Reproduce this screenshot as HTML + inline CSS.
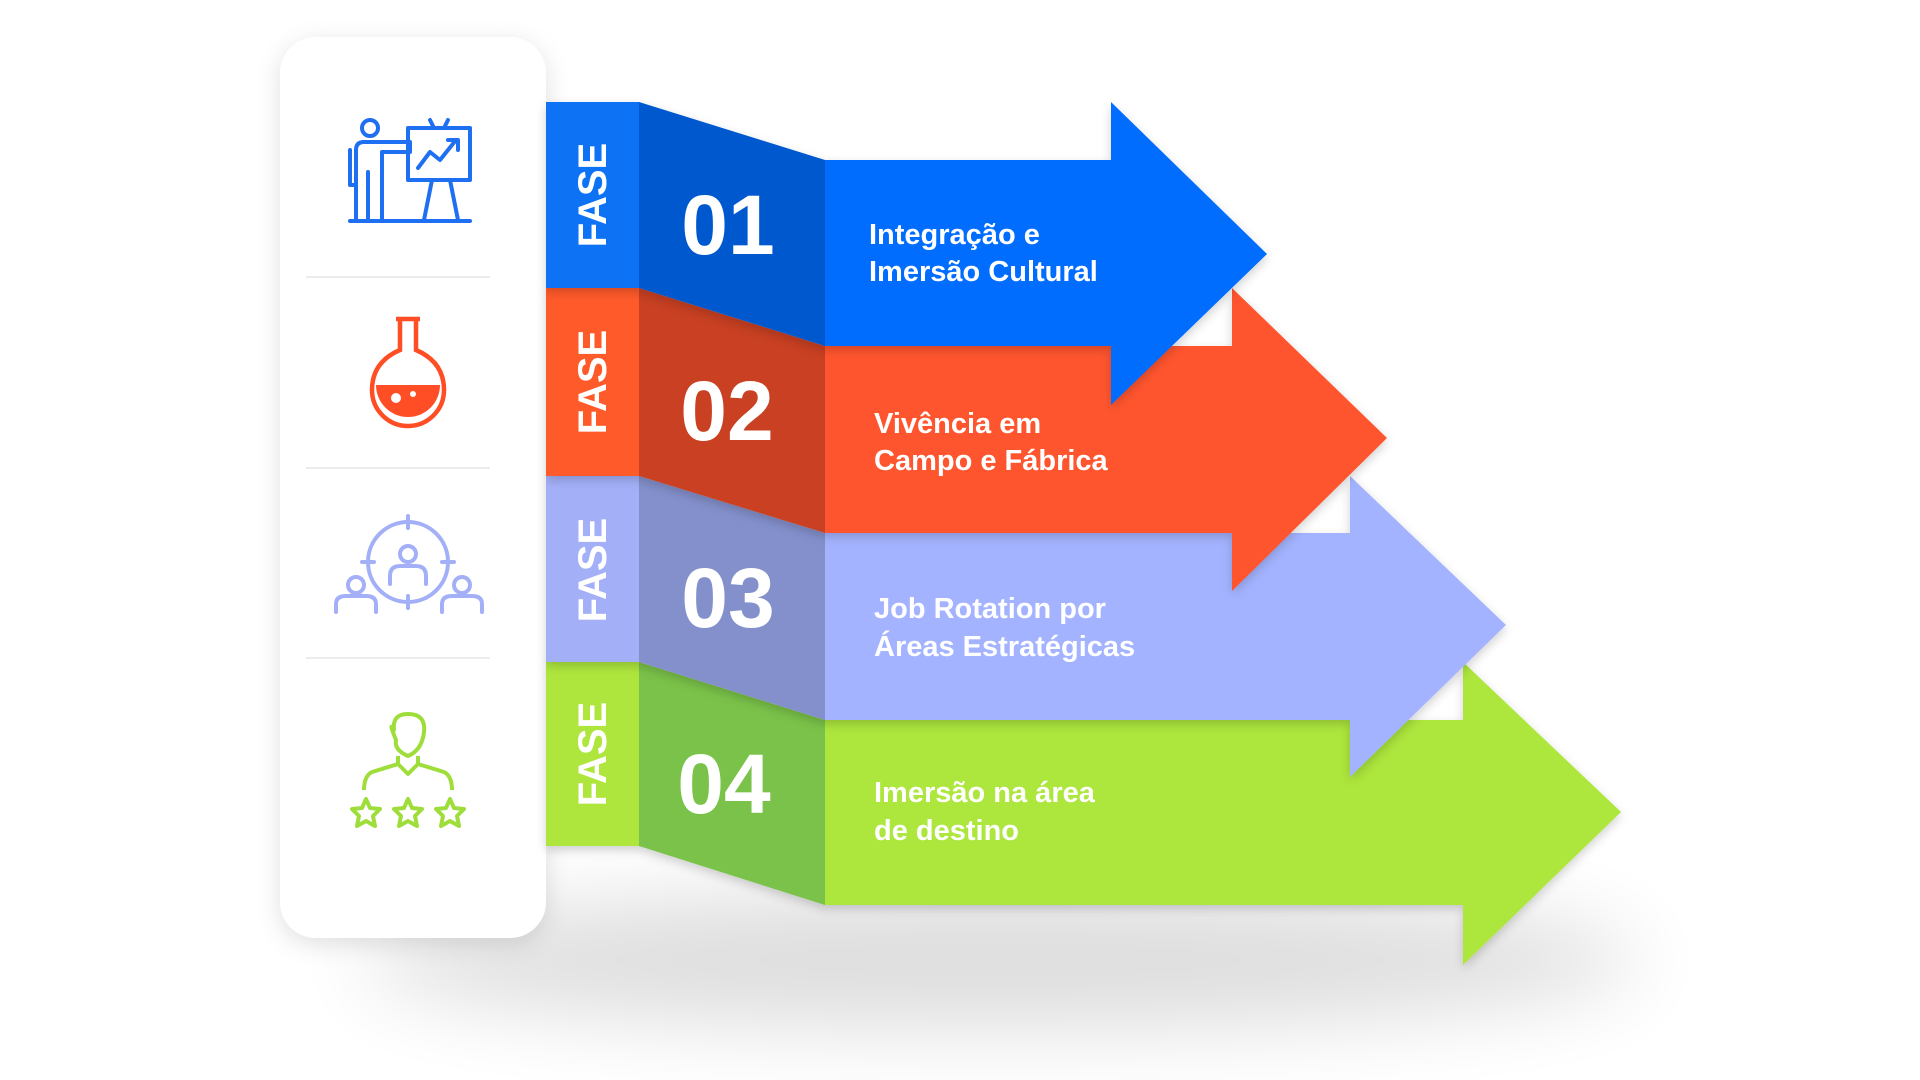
<!DOCTYPE html>
<html><head><meta charset="utf-8"><style>
html,body{margin:0;padding:0;background:#fff;}
svg{display:block;}
text{font-family:"Liberation Sans",sans-serif;fill:#fff;}
</style></head><body>
<svg width="1920" height="1080" viewBox="0 0 1920 1080" xmlns="http://www.w3.org/2000/svg">
<defs>
<filter id="blur" x="-50%" y="-50%" width="200%" height="200%"><feGaussianBlur stdDeviation="40"/></filter>
<filter id="cs" x="-20%" y="-20%" width="140%" height="140%"><feDropShadow dx="0" dy="6" stdDeviation="12" flood-color="#000" flood-opacity="0.12"/></filter>
<filter id="as" x="-10%" y="-10%" width="120%" height="130%"><feDropShadow dx="0" dy="4" stdDeviation="5" flood-color="#000" flood-opacity="0.18"/></filter>
</defs>
<ellipse cx="1000" cy="960" rx="640" ry="70" fill="#000" opacity="0.13" filter="url(#blur)"/>
<rect x="280" y="37" width="266" height="901" rx="36" fill="#fff" filter="url(#cs)"/>
<g stroke="#ececec" stroke-width="2">
<line x1="306" y1="277" x2="490" y2="277"/><line x1="306" y1="468" x2="490" y2="468"/><line x1="306" y1="658" x2="490" y2="658"/>
</g>
<g filter="url(#as)">
<polygon points="825,720 1463,720 1463,662 1621,812 1463,965 1463,905 825,905" fill="#ADE63C"/>
<polygon points="639,662 825,720 825,905 639,846" fill="#7AC24A"/>
<rect x="546" y="662" width="93" height="184" fill="#AEE63D"/>
</g>
<g filter="url(#as)">
<polygon points="825,533 1350,533 1350,476 1506,625 1350,777 1350,720 825,720" fill="#A4B3FF"/>
<polygon points="639,476 825,533 825,720 639,662" fill="#8490CC"/>
<rect x="546" y="476" width="93" height="186" fill="#A3B0F8"/>
</g>
<g filter="url(#as)">
<polygon points="825,346 1232,346 1232,288 1387,438 1232,591 1232,533 825,533" fill="#FF552D"/>
<polygon points="639,288 825,346 825,533 639,476" fill="#C94120"/>
<rect x="546" y="288" width="93" height="188" fill="#FF5A2C"/>
</g>
<g filter="url(#as)">
<polygon points="825,160 1111,160 1111,102 1267,254 1111,405 1111,346 825,346" fill="#006DFF"/>
<polygon points="639,102 825,160 825,346 639,288" fill="#0058CF"/>
<rect x="546" y="102" width="93" height="186" fill="#0B72F4"/>
</g>
<g font-size="40" font-weight="bold">
<text transform="translate(606,195) rotate(-90)" text-anchor="middle">FASE</text>
<text transform="translate(606,382) rotate(-90)" text-anchor="middle">FASE</text>
<text transform="translate(606,570) rotate(-90)" text-anchor="middle">FASE</text>
<text transform="translate(606,754) rotate(-90)" text-anchor="middle">FASE</text>
</g>
<g font-size="84" font-weight="bold" text-anchor="middle">
<text x="728" y="254">01</text>
<text x="727" y="440">02</text>
<text x="728" y="627">03</text>
<text x="724" y="813">04</text>
</g>
<g font-size="29" font-weight="bold">
<text x="869" y="244">Integração e</text><text x="869" y="281">Imersão Cultural</text>
<text x="874" y="433">Vivência em</text><text x="874" y="470">Campo e Fábrica</text>
<text x="874" y="618">Job Rotation por</text><text x="874" y="656">Áreas Estratégicas</text>
<text x="874" y="802">Imersão na área</text><text x="874" y="840">de destino</text>
</g>
<g fill="none" stroke="#1F6FF2" stroke-width="4" stroke-linejoin="round" stroke-linecap="round">
<circle cx="370" cy="128" r="8"/>
<path d="M356,220 V150 Q356,142 364,142 H410 V152 H382 V220 M368,220 V172 M356,185 H350 V150"/>
<rect x="408" y="128" width="62" height="52"/>
<path d="M418,168 L430,152 L440,160 L456,140 M448,140 H458 V150"/>
<path d="M432,180 L424,220 M450,180 L458,220 M350,221 H470 M434,128 L430,120 M444,128 L448,120"/>
</g>
<g fill="none" stroke="#FF4E25" stroke-width="4.5">
<path d="M396,319 H420 M400,319 V350 Q372,362 372,390 A36,36 0 0,0 444,390 Q444,362 416,350 V319"/>
</g>
<path d="M376,385 H440 A32,32 0 0,1 376,385 Z" fill="#FF4E25"/>
<circle cx="396" cy="398" r="5" fill="#fff"/><circle cx="413" cy="394" r="3" fill="#fff"/>
<g fill="none" stroke="#A3B0F8" stroke-width="4" stroke-linecap="round">
<circle cx="408" cy="562" r="40"/>
<path d="M408,516 V528 M408,596 V608 M362,562 H374 M442,562 H454"/>
<circle cx="408" cy="554" r="8"/>
<path d="M390,584 V576 Q390,566 400,566 H416 Q426,566 426,576 V584"/>
<circle cx="356" cy="585" r="8"/><path d="M336,612 V604 Q336,596 346,596 H366 Q376,596 376,604 V612"/>
<circle cx="462" cy="585" r="8"/><path d="M442,612 V604 Q442,596 452,596 H472 Q482,596 482,604 V612"/>
</g>
<g fill="none" stroke="#9EDD3A" stroke-width="4" stroke-linejoin="round">
<path d="M396,740 Q388,720 394,730 Q392,714 408,714 Q426,714 424,732 Q422,750 408,756 Q394,750 396,740 Z"/>
<path d="M398,756 V764 L372,772 Q364,776 364,790 M418,756 V764 L444,772 Q452,776 452,790 M398,764 L408,774 L418,764"/>
<path d="M366,799 l4,9 l10,1 l-7,7 l2,10 l-9,-5 l-9,5 l2,-10 l-7,-7 l10,-1 z"/>
<path d="M408,799 l4,9 l10,1 l-7,7 l2,10 l-9,-5 l-9,5 l2,-10 l-7,-7 l10,-1 z"/>
<path d="M450,799 l4,9 l10,1 l-7,7 l2,10 l-9,-5 l-9,5 l2,-10 l-7,-7 l10,-1 z"/>
</g>
</svg>
</body></html>
